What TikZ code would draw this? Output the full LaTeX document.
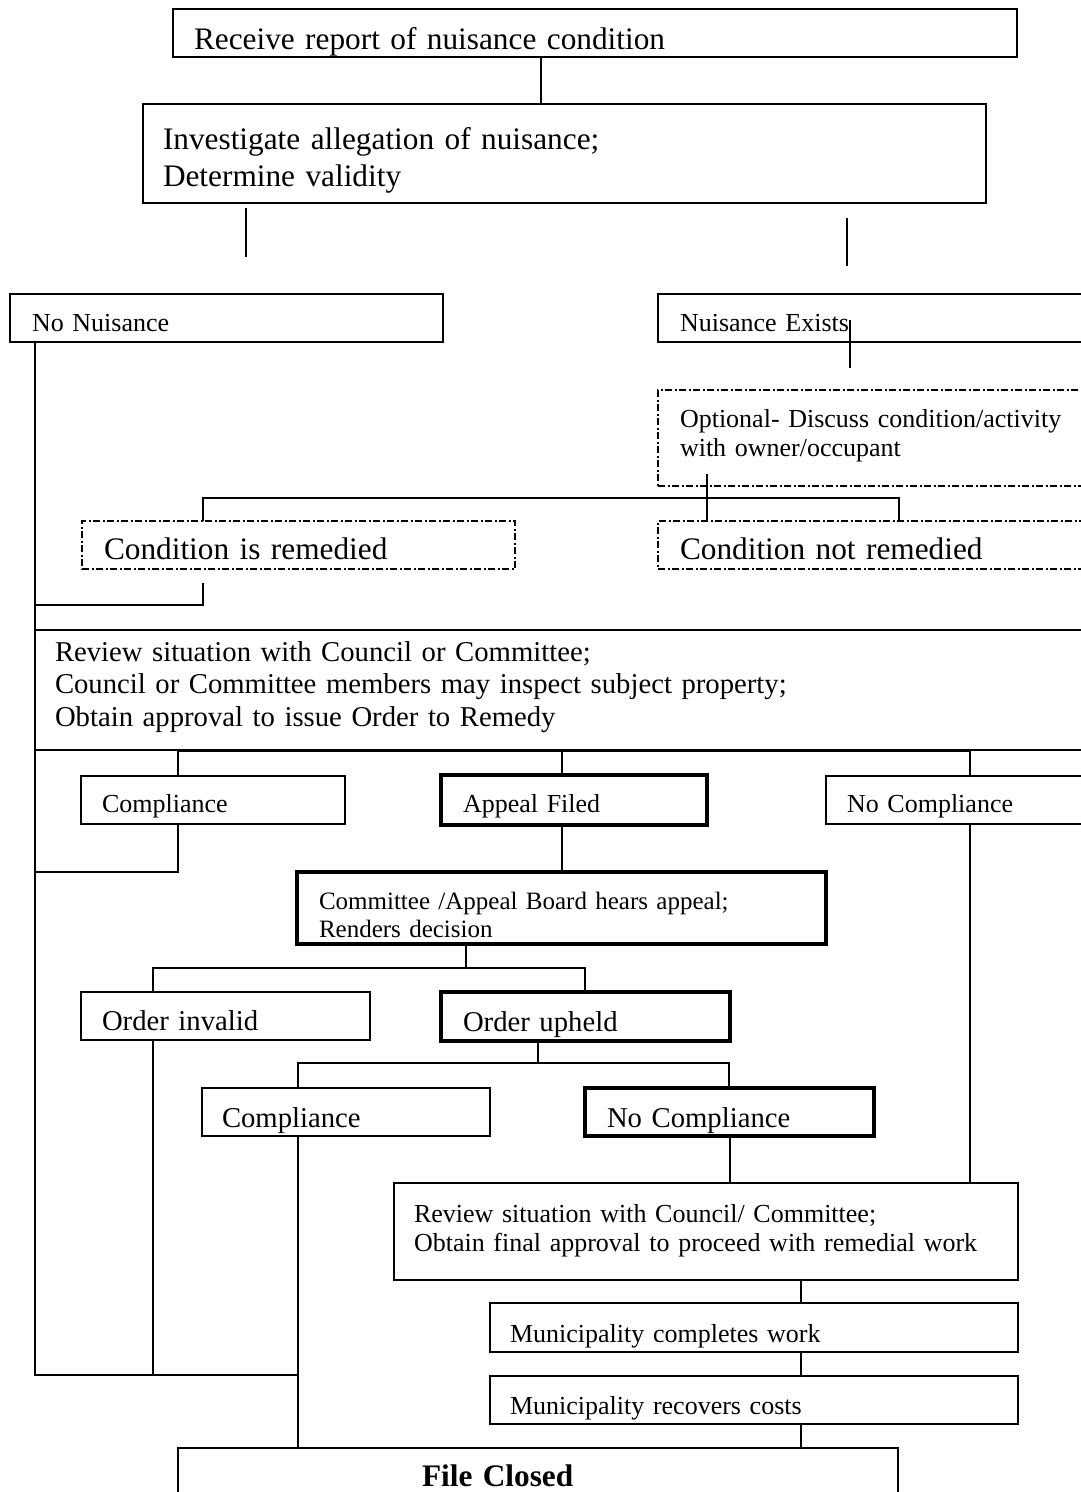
\documentclass[tikz,border=0pt]{standalone}
\usepackage{fontspec}
\setmainfont{Liberation Serif}
\newcommand\szL{\fontsize{31.3}{37}\selectfont}
\newcommand\szM{\fontsize{28.7}{32.5}\selectfont}
\newcommand\szS{\fontsize{26}{29.5}\selectfont}
\newcommand\szC{\fontsize{25}{28}\selectfont}
\tikzset{
  box/.style={draw, line width=1.8pt, rectangle, anchor=north west, align=left, inner ysep=0pt, outer sep=0pt},
  thickbox/.style={box, line width=4pt},
  dashbox/.style={box, line width=1.5pt, dash pattern=on 7pt off 2.5pt on 2pt off 2.5pt},
  conn/.style={line width=1.4pt},
  bl/.style 2 args={text height=#1pt, text depth=#2pt},
}
\begin{document}
\begin{tikzpicture}[x=1pt,y=1pt]
\useasboundingbox (0,0) rectangle (1081,-1492);
\fill[white] (0,0) rectangle (1081,-1492);
\clip (0,0) rectangle (1081,-1492);
% boxes
\node[box, font=\szL, bl={32}{0}, minimum width=844, minimum height=48, inner xsep=21, text width=802] (receive) at (173,-9) {Receive report of nuisance condition};
\node[box, font=\szL, bl={0}{9}, minimum width=843, minimum height=99, inner xsep=20, text width=803] (investigate) at (143,-104) {Investigate allegation of nuisance;\\Determine validity};
\node[box, font=\szS, bl={26}{0}, minimum width=433, minimum height=48, inner xsep=22, text width=389] (nonuis) at (10,-294) {No Nuisance};
\node[box, font=\szS, bl={26}{0}, minimum width=442, minimum height=48, inner xsep=22, text width=398] (exists) at (658,-294) {Nuisance Exists};
\node[dashbox, font=\szS, bl={0}{22}, minimum width=442, minimum height=96, inner xsep=22, text width=398] (optional) at (658,-390) {Optional- Discuss condition/activity\\with owner/occupant};
\node[dashbox, font=\szL, bl={28}{0}, minimum width=433, minimum height=48, inner xsep=22, text width=389] (remedied) at (82,-521) {Condition is remedied};
\node[dashbox, font=\szL, bl={28}{0}, minimum width=442, minimum height=48, inner xsep=22, text width=398] (notremedied) at (658,-521) {Condition not remedied};
\node[box, font=\szM, bl={0}{58}, minimum width=1065, minimum height=120, inner xsep=20, text width=1025] (review) at (35,-630) {Review situation with Council or Committee;\\Council or Committee members may inspect subject property;\\Obtain approval to issue Order to Remedy};
\node[box, font=\szS, bl={24}{0}, minimum width=264, minimum height=48, inner xsep=21, text width=222] (compA) at (81,-776) {Compliance};
\node[thickbox, font=\szS, bl={24}{0}, minimum width=266, minimum height=50, inner xsep=22, text width=222] (appeal) at (441,-775) {Appeal Filed};
\node[box, font=\szS, bl={24}{0}, minimum width=274, minimum height=48, inner xsep=21, text width=232] (nocompA) at (826,-776) {No Compliance};
\node[thickbox, font=\szC, bl={2}{0}, minimum width=529, minimum height=72, inner xsep=22, text width=485] (committee) at (297,-872) {Committee /Appeal Board hears appeal;\\Renders decision};
\node[box, font=\szM, bl={28}{0}, minimum width=289, minimum height=48, inner xsep=21, text width=247] (invalid) at (81,-992) {Order invalid};
\node[thickbox, font=\szM, bl={30}{0}, minimum width=289, minimum height=49, inner xsep=22, text width=245] (upheld) at (441,-992) {Order upheld};
\node[box, font=\szM, bl={30}{0}, minimum width=288, minimum height=48, inner xsep=20, text width=248] (compB) at (202,-1088) {Compliance};
\node[thickbox, font=\szM, bl={30}{0}, minimum width=289, minimum height=48, inner xsep=22, text width=245] (nocompB) at (585,-1088) {No Compliance};
\node[box, font=\szS, bl={0}{19}, minimum width=624, minimum height=97, inner xsep=20, text width=584] (review2) at (394,-1183) {Review situation with Council/ Committee;\\Obtain final approval to proceed with remedial work};
\node[box, font=\szS, bl={29}{0}, minimum width=528, minimum height=49, inner xsep=20, text width=488] (mcomplete) at (490,-1303) {Municipality completes work};
\node[box, font=\szS, bl={28}{0}, minimum width=528, minimum height=48, inner xsep=20, text width=488] (mrecover) at (490,-1376) {Municipality recovers costs};
\node[box, font=\szL\bfseries, bl={12}{0}, minimum width=720, minimum height=64, inner xsep=244, text width=232] (closed) at (178,-1448) {File Closed};
% free-end coordinates
\coordinate (stubAtop) at (246,-208);
\coordinate (stubAbot) at (246,-257);
\coordinate (stubBtop) at (847,-218);
\coordinate (stubBbot) at (847,-266);
\coordinate (exTop) at (850,-320);
\coordinate (exBot) at (850,-368);
\coordinate (optTop) at (707,-474);
\coordinate (remBot) at (203,-583);
\coordinate (leftCorner) at (35,-605);
\coordinate (bottomLeft) at (35,-1375);
% connectors
\draw[conn] (receive.south -| 541,0) -- (investigate.north -| 541,0);
\draw[conn] (stubAtop) -- (stubAbot);
\draw[conn] (stubBtop) -- (stubBbot);
\draw[conn] (exTop) -- (exBot);
\draw[conn] (optTop) -- (notremedied.north -| optTop);
\draw[conn] (remedied.north -| 203,0) -- (203,-498) -- (899,-498) -- (notremedied.north -| 899,0);
\draw[conn] (remBot) -- (203,-605) -- (leftCorner);
\draw[conn] (nonuis.south -| 35,0) -- (bottomLeft) -- (298,-1375);
\draw[conn] (compA.south -| 178,0) -- (178,-872) -- (35,-872);
\draw[line width=3pt] (178,-750) -- (970,-750);
\draw[conn] (178,-750) -- (compA.north -| 178,0);
\draw[conn] (562,-750) -- (appeal.north -| 562,0);
\draw[conn] (970,-750) -- (nocompA.north -| 970,0);
\draw[conn] (appeal.south -| 562,0) -- (committee.north -| 562,0);
\draw[conn] (committee.south -| 466,0) -- (466,-968);
\draw[conn] (invalid.north -| 153,0) -- (153,-968) -- (585,-968) -- (upheld.north -| 585,0);
\draw[conn] (invalid.south -| 153,0) -- (153,-1375);
\draw[conn] (upheld.south -| 538,0) -- (538,-1063);
\draw[conn] (compB.north -| 298,0) -- (298,-1063) -- (729,-1063) -- (nocompB.north -| 729,0);
\draw[conn] (compB.south -| 298,0) -- (closed.north -| 298,0);
\draw[conn] (nocompB.south -| 730,0) -- (review2.north -| 730,0);
\draw[conn] (nocompA.south -| 970,0) -- (review2.north -| 970,0);
\draw[conn] (review2.south -| 801,0) -- (mcomplete.north -| 801,0);
\draw[conn] (mcomplete.south -| 801,0) -- (mrecover.north -| 801,0);
\draw[conn] (mrecover.south -| 801,0) -- (closed.north -| 801,0);
\end{tikzpicture}
\end{document}
